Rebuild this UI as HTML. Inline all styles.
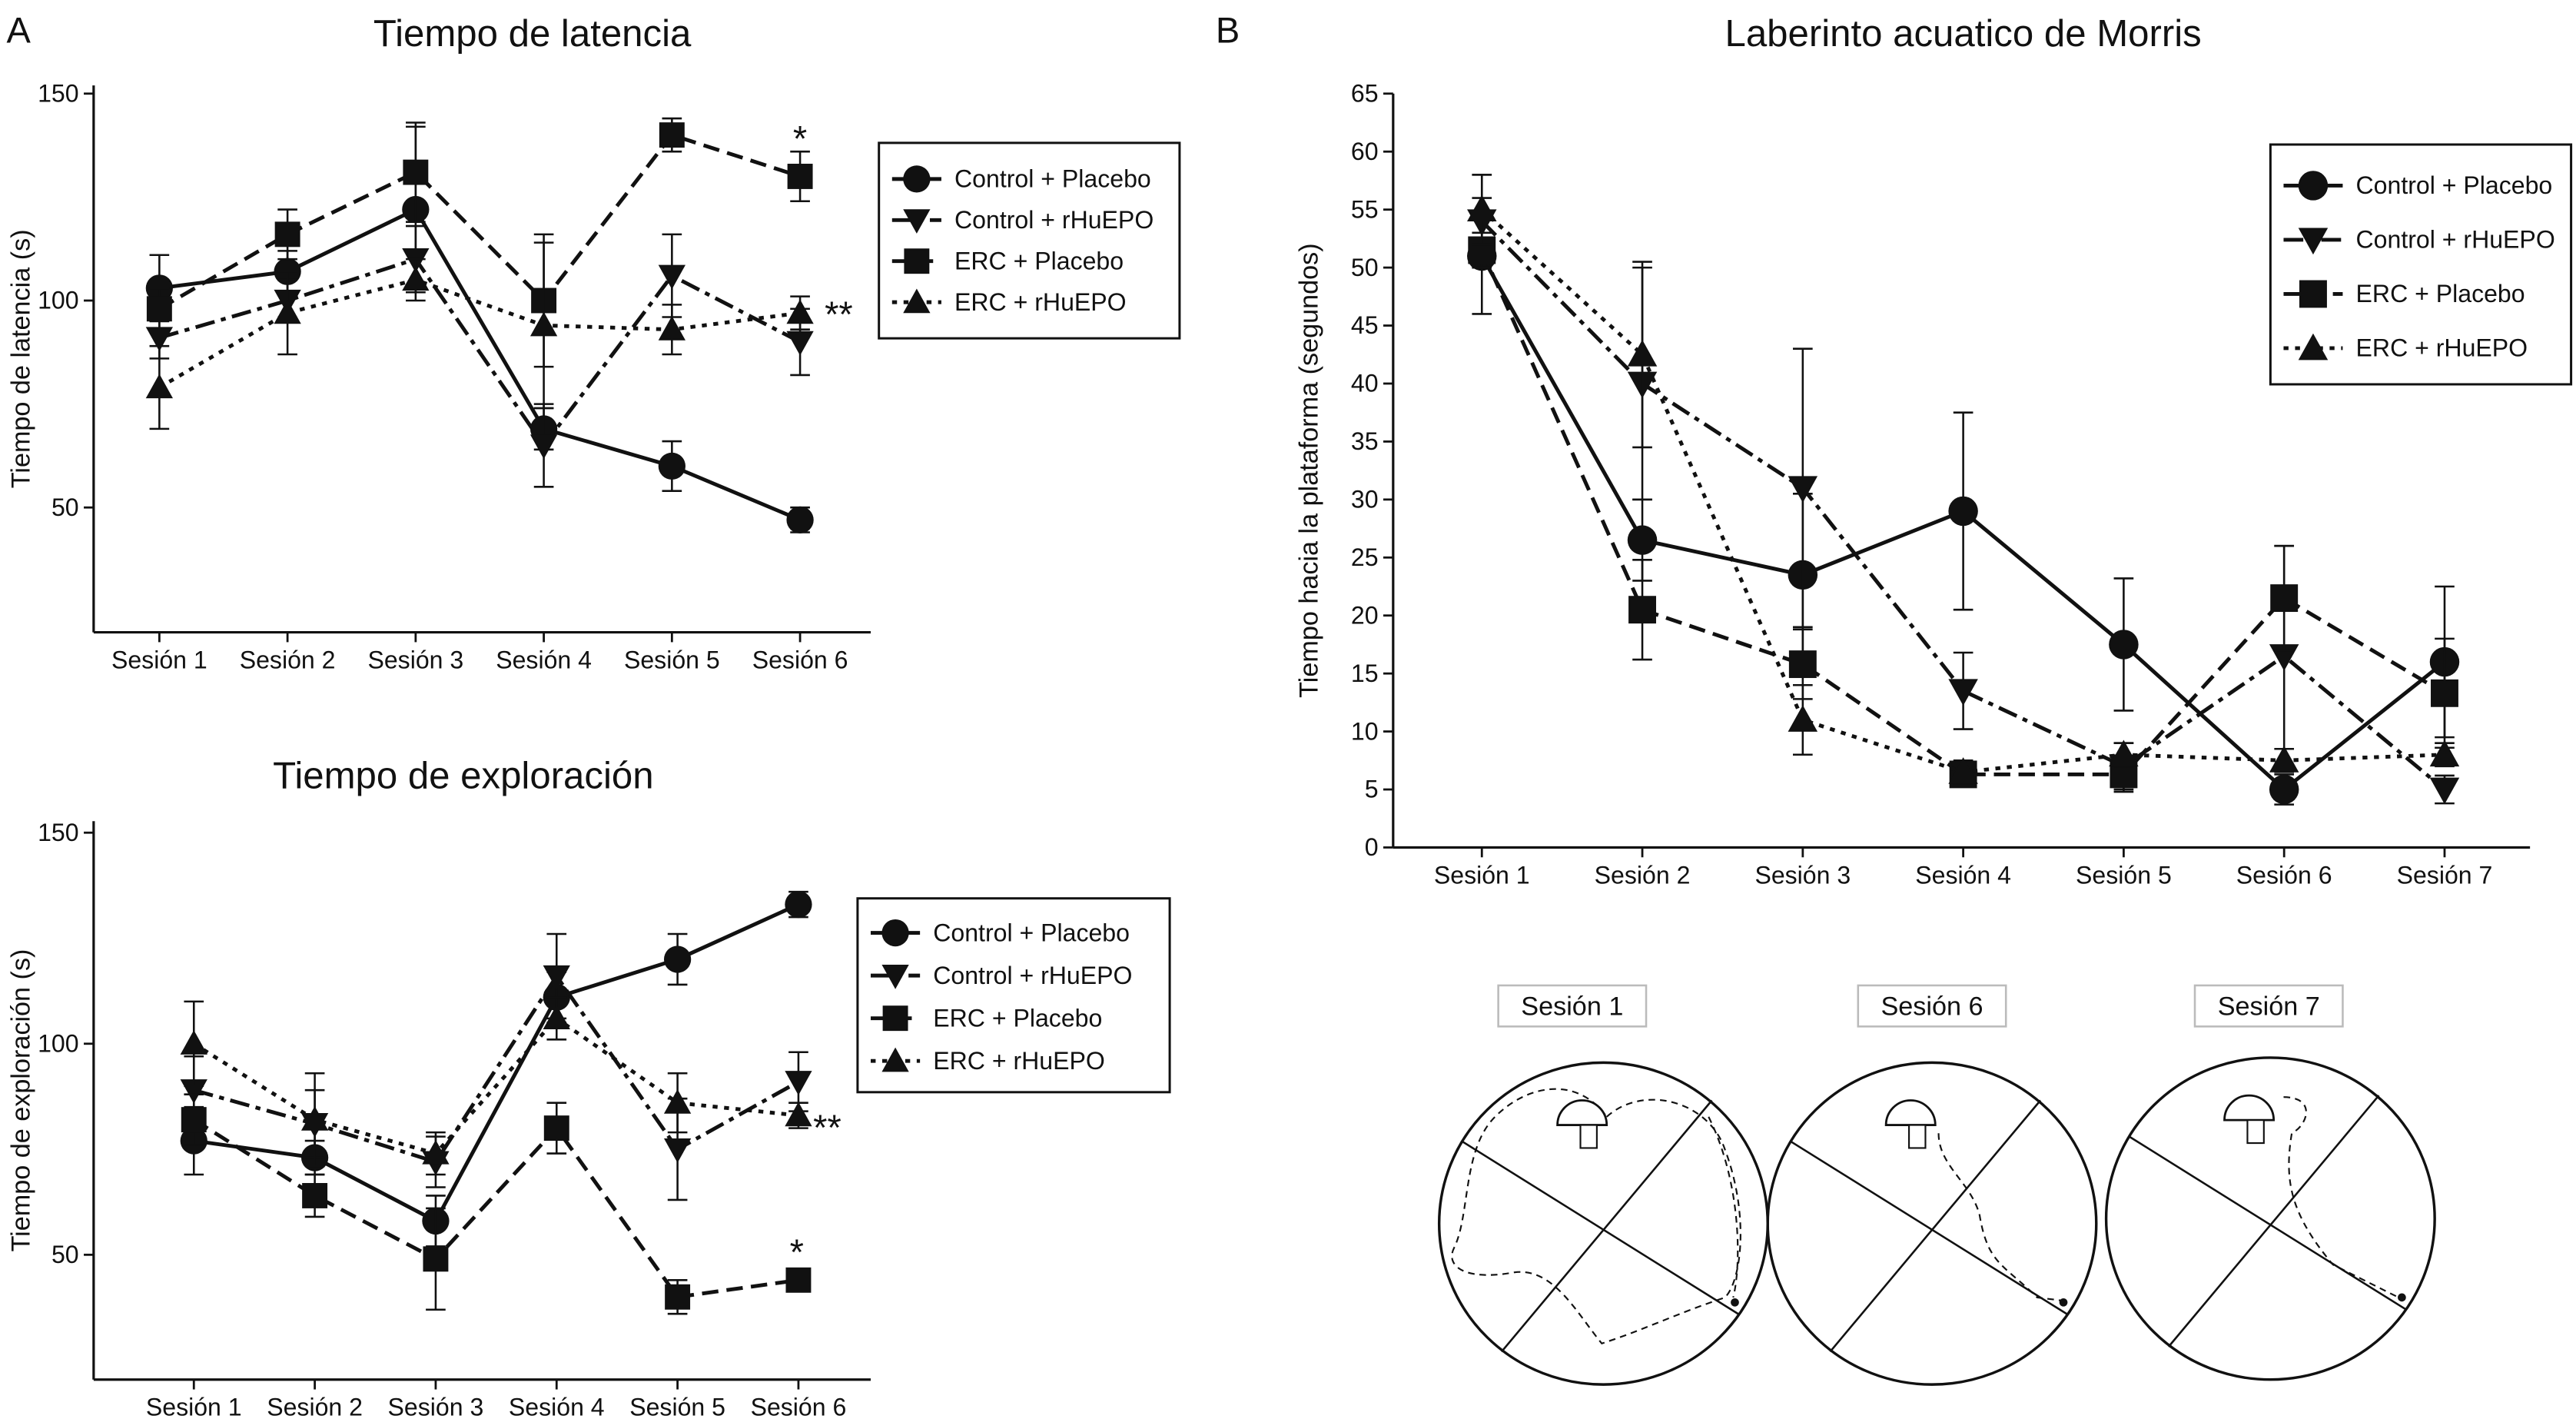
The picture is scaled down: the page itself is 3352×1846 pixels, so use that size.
<!DOCTYPE html>
<html><head><meta charset="utf-8"><style>
html,body{margin:0;padding:0;background:#fff}
svg{display:block}
text{font-family:"Liberation Sans",sans-serif;fill:#111}
</style></head><body>
<svg id="fig" width="3352" height="1846" viewBox="0 0 1568 864" preserveAspectRatio="none" xmlns="http://www.w3.org/2000/svg">
<g id="root"></g>
</svg>
<script>
// ---- Panel A top: Tiempo de latencia ----
const latSessions = ["Sesión 1","Sesión 2","Sesión 3","Sesión 4","Sesión 5","Sesión 6"];
const latTicks = [50,100,150];
const latCP = [103,107,122,69,60,47];
const latCPerr = [8,5,20,5,6,3];
const latCR = [91,100,110,65,106,90];
const latCRerr = [5,5,8,10,10,8];
const latEP = [98,116,131,100,140,130];
const latEPerr = [5,6,12,16,4,6];
const latER = [79,97,105,94,93,97];
const latERerr = [10,10,5,20,6,4];
// ---- Panel A bottom: Tiempo de exploración ----
const expSessions = ["Sesión 1","Sesión 2","Sesión 3","Sesión 4","Sesión 5","Sesión 6"];
const expTicks = [50,100,150];
const expCP = [77,73,58,111,120,133];
const expCPerr = [8,4,6,6,6,3];
const expCR = [89,81,72,116,75,91];
const expCRerr = [8,8,6,10,12,7];
const expEP = [82,64,49,80,40,44];
const expEPerr = [6,5,12,6,4,2];
const expER = [100,82,74,106,86,83];
const expERerr = [10,11,5,5,7,3];
// ---- Panel B: Laberinto acuatico de Morris ----
const morSessions = ["Sesión 1","Sesión 2","Sesión 3","Sesión 4","Sesión 5","Sesión 6","Sesión 7"];
const morTicks = [0,5,10,15,20,25,30,35,40,45,50,55,60,65];
const morCP = [51,26.5,23.5,29,17.5,5,16];
const morCPerr = [5,3.5,7,8.5,5.7,1.3,6.5];
const morCR = [54,40,31,13.5,7,16.5,5];
const morCRerr = [4,10,12,3.3,2,9.5,1.2];
const morEP = [51.5,20.5,15.8,6.3,6.3,21.5,13.3];
const morEPerr = [1.5,4.3,3,0.5,1.5,4.5,4.7];
const morER = [55,42.5,11,6.5,8,7.5,8];
const morERerr = [3,8,3,1,1,1,1];

const NS="http://www.w3.org/2000/svg";
const root=document.getElementById('root');
function el(tag,attrs,parent,txt){const e=document.createElementNS(NS,tag);for(const k in attrs)e.setAttribute(k,attrs[k]);if(txt!==undefined)e.textContent=txt;(parent||root).appendChild(e);return e;}

function marker(g,type,x,y,s){
  let m;
  if(type==='circle') m=el('circle',{cx:x,cy:y,r:s*0.75,fill:'#111'},g);
  else if(type==='square') m=el('rect',{x:x-s*0.7,y:y-s*0.7,width:s*1.4,height:s*1.4,fill:'#111'},g);
  else if(type==='down') m=el('polygon',{points:`${x-s*0.75},${y-s*0.6} ${x+s*0.75},${y-s*0.6} ${x},${y+s*0.75}`,fill:'#111'},g);
  else m=el('polygon',{points:`${x-s*0.75},${y+s*0.6} ${x+s*0.75},${y+s*0.6} ${x},${y-s*0.75}`,fill:'#111'},g);
  
  
}

const styles={
  cp:{dash:'none',m:'circle',label:'Control + Placebo'},
  cr:{dash:'12,4,3,4',m:'down',label:'Control + rHuEPO'},
  ep:{dash:'10,5',m:'square',label:'ERC + Placebo'},
  er:{dash:'3,4',m:'up',label:'ERC + rHuEPO'}
};

function chart(cfg){
  const g=el('g',{},root);
  
  
  const yS=v=>cfg.y0px-(v-cfg.ymin)*(cfg.y0px-cfg.y1px)/(cfg.ymax-cfg.ymin);
  const xS=i=>cfg.xFirst+i*(cfg.xLast-cfg.xFirst)/(cfg.cats.length-1);
  const ya=el('line',{x1:cfg.ax,y1:cfg.axTop,x2:cfg.ax,y2:cfg.axBot,stroke:'#111','stroke-width':1.5},g);
  
  const xa=el('line',{x1:cfg.ax,y1:cfg.axBot,x2:cfg.axRight,y2:cfg.axBot,stroke:'#111','stroke-width':1.5},g);
  
  cfg.ticks.forEach(t=>{
    const y=yS(t);
    el('line',{x1:cfg.ax-6,y1:y,x2:cfg.ax,y2:y,stroke:'#111','stroke-width':1.3},g);
    const tl=el('text',{x:cfg.ax-9,y:y+5,'text-anchor':'end','font-size':cfg.fs},g,String(t));
    
  });
  cfg.cats.forEach((c,i)=>{
    const x=xS(i);
    el('line',{x1:x,y1:cfg.axBot,x2:x,y2:cfg.axBot+6,stroke:'#111','stroke-width':1.3},g);
    const tl=el('text',{x:x,y:cfg.axBot+22,'text-anchor':'middle','font-size':cfg.fs},g,c);
    
  });
  const yt=el('text',{x:0,y:0,'text-anchor':'middle','font-size':cfg.fs+1,transform:`translate(${cfg.ytX},${(cfg.axTop+cfg.axBot)/2}) rotate(-90)`},g,cfg.ytitle);
  
  const tt=el('text',{x:cfg.titleX,y:cfg.titleY,'text-anchor':'middle','font-size':23},g,cfg.title);
  
  cfg.series.forEach(s=>{
    const st=styles[s.key];
    const sg=el('g',{},g);
    
    
    const pts=s.v.map((v,i)=>`${xS(i)},${yS(v)}`).join(' ');
    el('polyline',{points:pts,fill:'none',stroke:'#111','stroke-width':2.3,'stroke-dasharray':st.dash},sg);
    s.v.forEach((v,i)=>{
      const x=xS(i),e=s.e[i];
      el('line',{x1:x,y1:yS(v+e),x2:x,y2:yS(v-e),stroke:'#111','stroke-width':1.2},sg);
      el('line',{x1:x-6,y1:yS(v+e),x2:x+6,y2:yS(v+e),stroke:'#111','stroke-width':1.2},sg);
      el('line',{x1:x-6,y1:yS(v-e),x2:x+6,y2:yS(v-e),stroke:'#111','stroke-width':1.2},sg);
      marker(sg,st.m,x,yS(v),cfg.ms);
    });
  });
  const L=cfg.legend;
  const lg=el('g',{},g);
  
  el('rect',{x:L.x,y:L.y,width:L.w,height:L.h,fill:'#fff',stroke:'#111','stroke-width':1.4},lg);
  ['cp','cr','ep','er'].forEach((k,i)=>{
    const st=styles[k];const y=L.y+L.pad+i*L.step;
    const eg=el('g',{},lg);
    
    el('line',{x1:L.x+8,y1:y,x2:L.x+8+L.line,y2:y,stroke:'#111','stroke-width':2.3,'stroke-dasharray':st.dash},eg);
    marker(eg,st.m,L.x+8+L.line/2,y,cfg.ms);
    el('text',{x:L.x+16+L.line,y:y+5,'font-size':L.fs},eg,st.label);
  });
  return {xS,yS};
}

chart({name:'latency-chart',cats:latSessions,ticks:latTicks,ymin:50,ymax:150,y0px:309,y1px:57,
  xFirst:97,xLast:487,ax:57,axTop:52,axBot:385,axRight:530,fs:15,ms:11,ytX:18,ytitle:'Tiempo de latencia (s)',
  title:'Tiempo de latencia',titleX:324,titleY:28,
  series:[{key:'cp',v:latCP,e:latCPerr},{key:'cr',v:latCR,e:latCRerr},{key:'ep',v:latEP,e:latEPerr},{key:'er',v:latER,e:latERerr}],
  legend:{x:535,y:87,w:183,h:119,pad:22,step:25,line:30,fs:15}});
el('text',{x:487,y:92,'text-anchor':'middle','font-size':22},root,'*');
el('text',{x:502,y:199,'font-size':22},root,'**');

chart({name:'exploration-chart',cats:expSessions,ticks:expTicks,ymin:50,ymax:150,y0px:764,y1px:507,
  xFirst:118,xLast:486,ax:57,axTop:500,axBot:840,axRight:530,fs:15,ms:11,ytX:18,ytitle:'Tiempo de exploración (s)',
  title:'Tiempo de exploración',titleX:282,titleY:480,
  series:[{key:'cp',v:expCP,e:expCPerr},{key:'cr',v:expCR,e:expCRerr},{key:'ep',v:expEP,e:expEPerr},{key:'er',v:expER,e:expERerr}],
  legend:{x:522,y:547,w:190,h:118,pad:21,step:26,line:30,fs:15}});
el('text',{x:485,y:770,'text-anchor':'middle','font-size':22},root,'*');
el('text',{x:495,y:694,'font-size':22},root,'**');

chart({name:'morris-chart',cats:morSessions,ticks:morTicks,ymin:0,ymax:65,y0px:516,y1px:57,
  xFirst:902,xLast:1488,ax:848,axTop:57,axBot:516,axRight:1540,fs:15,ms:12,ytX:802,ytitle:'Tiempo hacia la plataforma (segundos)',
  title:'Laberinto acuatico de Morris',titleX:1195,titleY:28,
  series:[{key:'cp',v:morCP,e:morCPerr},{key:'cr',v:morCR,e:morCRerr},{key:'ep',v:morEP,e:morEPerr},{key:'er',v:morER,e:morERerr}],
  legend:{x:1382,y:88,w:183,h:146,pad:25,step:33,line:36,fs:15}});

el('text',{x:4,y:26,'font-size':22},root,'A');
el('text',{x:740,y:26,'font-size':22},root,'B');

const mazes=[{label:'Sesión 1',lx:957,cx:976,cy:745,path:'M978,680 C1000,660 1040,670 1050,700 C1065,740 1060,780 1050,790 C1020,800 1000,810 975,818 C960,800 945,770 920,775 C890,780 880,770 885,760 C895,740 890,700 910,680 C930,660 960,655 978,680 M1040,680 C1060,720 1060,770 1055,790'},
  {label:'Sesión 6',lx:1176,cx:1176,cy:745,path:'M1180,690 C1180,710 1200,720 1205,740 C1210,770 1220,770 1240,790 L1256,792'},
  {label:'Sesión 7',lx:1381,cx:1382,cy:742,path:'M1390,668 C1410,668 1405,685 1395,690 C1390,720 1395,740 1420,770 L1460,790'}];
mazes.forEach((m)=>{
  const g=el('g',{},root);
  
  el('rect',{x:m.lx-45,y:600,width:90,height:25,fill:'#fff',stroke:'#bbb','stroke-width':1.2},g);
  el('text',{x:m.lx,y:618,'text-anchor':'middle','font-size':16},g,m.label);
  el('ellipse',{cx:m.cx,cy:m.cy,rx:100,ry:98,fill:'none',stroke:'#111','stroke-width':1.6},g);
  el('line',{x1:m.cx-86,y1:m.cy-50,x2:m.cx+82,y2:m.cy+55,stroke:'#111','stroke-width':1.2},g);
  el('line',{x1:m.cx+66,y1:m.cy-75,x2:m.cx-62,y2:m.cy+78,stroke:'#111','stroke-width':1.2},g);
  el('path',{d:m.path,fill:'none',stroke:'#111','stroke-width':1,'stroke-dasharray':'4,3'},g);
  el('path',{d:`M${m.cx-28},${m.cy-60} a14,14 0 0 1 30,0 z`,fill:'#fff',stroke:'#111','stroke-width':1.3},g);
  el('rect',{x:m.cx-14,y:m.cy-60,width:10,height:14,fill:'#fff',stroke:'#111','stroke-width':1},g);
  el('circle',{cx:m.cx+80,cy:m.cy+48,r:2.5,fill:'#111'},g);
});
</script>
</body></html>
